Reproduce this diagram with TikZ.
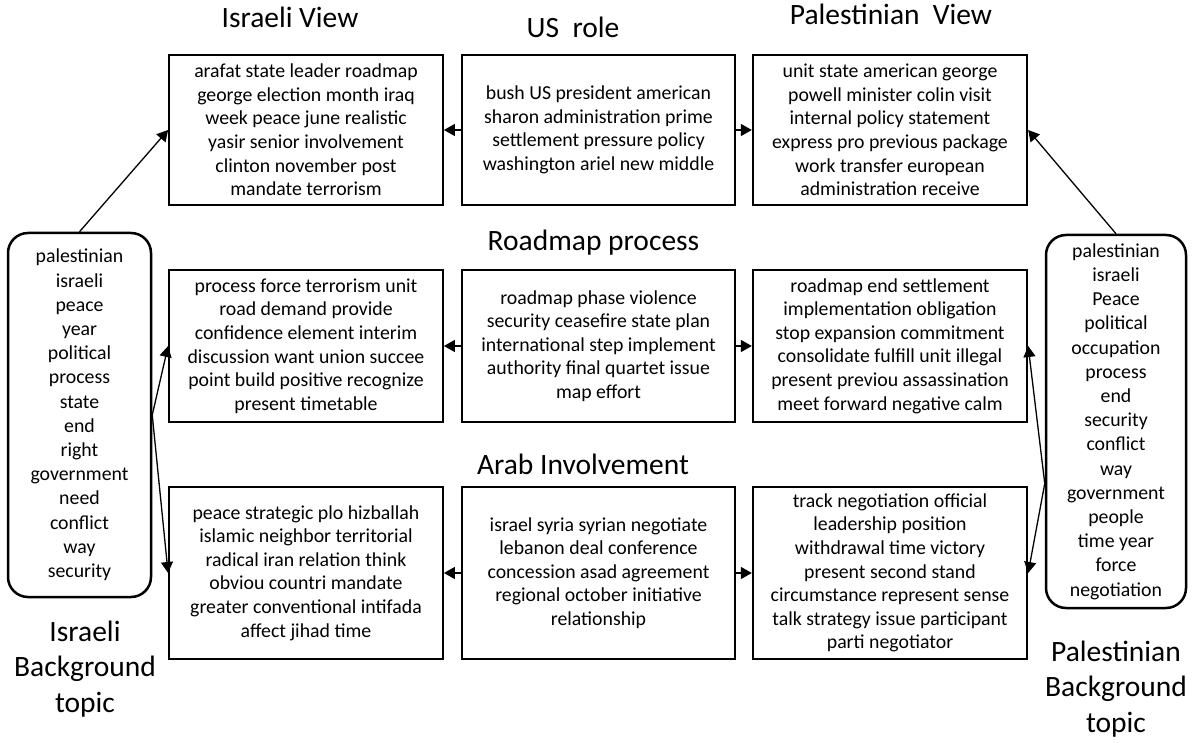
\documentclass[tikz,border=0pt]{standalone}
\usepackage{fontspec}
\setmainfont{Carlito}
\usetikzlibrary{arrows.meta}
\begin{document}
\begin{tikzpicture}[x=1pt,y=-1pt,
  topicbox/.style={draw, line width=2.3pt, align=center, inner sep=0pt,
    font=\fontsize{19.8}{23.6}\selectfont},
  bgbox/.style={draw, line width=2.5pt, rounded corners=20pt, align=center, inner sep=0pt,
    font=\fontsize{19.8}{24.2}\selectfont},
  heading/.style={font=\fontsize{29.5}{35.5}\selectfont, inner sep=0pt, anchor=base},
  bglabel/.style={font=\fontsize{29.5}{35.5}\selectfont, inner sep=0pt, align=center},
  link/.style={line width=1.3pt, -{Triangle[length=11pt,width=12pt]}}
]
\useasboundingbox (0,0) rectangle (1203,743);

% headings
\node[heading] (h1) at (290,28) {Israeli View};
\node[heading] (h2) at (573,38) {US\ \ role};
\node[heading] (h3) at (891,25) {Palestinian\ \ View};
\node[heading] (h4) at (593.5,251) {Roadmap process};
\node[heading] (h5) at (583,475) {Arab Involvement};

% row 1
\node[topicbox, minimum width=273.5pt, minimum height=150pt] (iv) at (306,130)
  {arafat state leader roadmap\\george election month iraq\\week peace june realistic\\yasir senior involvement\\clinton november post\\mandate terrorism};
\node[topicbox, minimum width=273pt, minimum height=150pt] (us) at (598.5,130)
  {bush US president american\\sharon administration prime\\settlement pressure policy\\washington ariel new middle};
\node[topicbox, minimum width=274pt, minimum height=150pt] (pv) at (890,130)
  {unit state american george\\powell minister colin visit\\internal policy statement\\express pro previous package\\work transfer european\\administration receive};

% row 2
\node[topicbox, minimum width=273.5pt, minimum height=152pt] (rl) at (306,346)
  {process force terrorism unit\\road demand provide\\confidence element interim\\discussion want union succee\\point build positive recognize\\present timetable};
\node[topicbox, minimum width=273pt, minimum height=152pt] (rm) at (598.5,346)
  {roadmap phase violence\\security ceasefire state plan\\international step implement\\authority final quartet issue\\map effort};
\node[topicbox, minimum width=274pt, minimum height=152pt] (rr) at (890,346)
  {roadmap end settlement\\implementation obligation\\stop expansion commitment\\consolidate fulfill unit illegal\\present previou assassination\\meet forward negative calm};

% row 3
\node[topicbox, minimum width=273.5pt, minimum height=172pt] (al) at (306,573)
  {peace strategic plo hizballah\\islamic neighbor territorial\\radical iran relation think\\obviou countri mandate\\greater conventional intifada\\affect jihad time};
\node[topicbox, minimum width=273pt, minimum height=172pt] (am) at (598.5,573)
  {israel syria syrian negotiate\\lebanon deal conference\\concession asad agreement\\regional october initiative\\relationship};
\node[topicbox, minimum width=274pt, minimum height=172pt] (ar) at (890,573)
  {track negotiation official\\leadership position\\withdrawal time victory\\present second stand\\circumstance represent sense\\talk strategy issue participant\\parti negotiator};

% background boxes
\node[bgbox, minimum width=143pt, minimum height=364pt] (ib) at (79.5,415)
  {palestinian\\israeli\\peace\\year\\political\\process\\state\\end\\right\\government\\need\\conflict\\way\\security};
\node[bgbox, minimum width=140pt, minimum height=373pt] (pb) at (1116,421.5)
  {palestinian\\israeli\\Peace\\political\\occupation\\process\\end\\security\\conflict\\way\\government\\people\\time year\\force\\negotiation};

\node[bglabel] (ibl) at (85,669) {Israeli\\Background\\topic};
\node[bglabel] (pbl) at (1116,689) {Palestinian\\Background\\topic};

% connectors
\draw[link] (us.west) -- (iv.east);
\draw[link] (us.east) -- (pv.west);
\draw[link] (rm.west) -- (rl.east);
\draw[link] (rm.east) -- (rr.west);
\draw[link] (am.west) -- (al.east);
\draw[link] (am.east) -- (ar.west);

\draw[link] (ib.north) -- (iv.west);
\draw[link] (ib.east) -- (rl.west);
\draw[link] (ib.east) -- (al.west);

\coordinate (pbw) at ([yshift=-62pt]pb.west);
\draw[link] (pb.north) -- (pv.east);
\draw[link] (pbw) -- (rr.east);
\draw[link] (pbw) -- (ar.east);
\end{tikzpicture}
\end{document}
